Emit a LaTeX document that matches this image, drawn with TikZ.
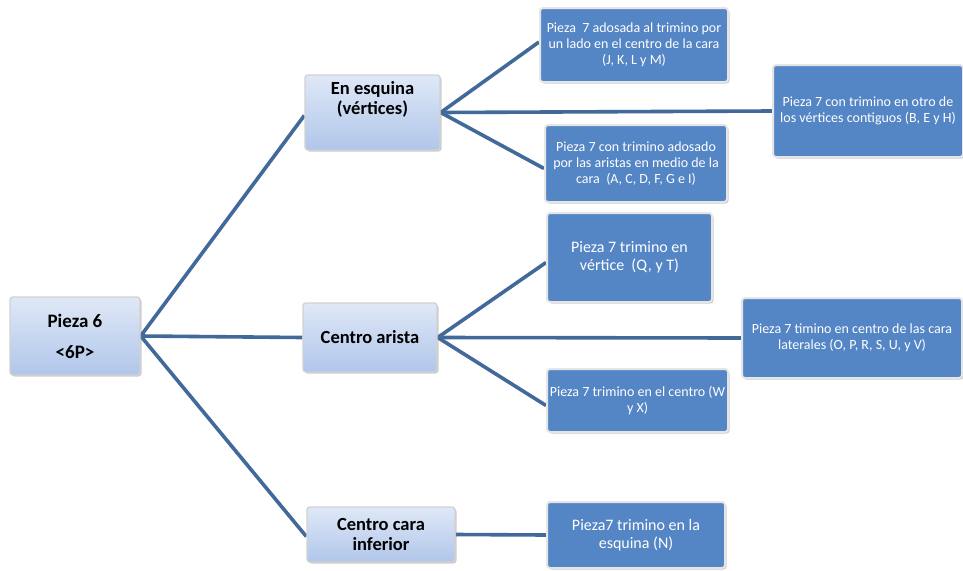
\documentclass[tikz,border=0pt]{standalone}
\usepackage{fontspec}
\setmainfont{Carlito}
\usetikzlibrary{shadows,backgrounds}
\definecolor{lineblue}{HTML}{41699A}
\definecolor{darkfill}{HTML}{5485C5}
\definecolor{lighttop}{HTML}{DFE8F7}
\definecolor{lightbot}{HTML}{B0C6EA}
\begin{document}
\begin{tikzpicture}[x=1pt,y=-1pt,
  lightbox/.style={rectangle, rounded corners=3pt, draw=white!65!gray, line width=1.4pt,
    top color=lighttop, bottom color=lightbot,
    drop shadow={shadow xshift=1.5pt,shadow yshift=-1.5pt,opacity=0.4},
    font=\bfseries\fontsize{18.5}{20}\selectfont, align=center, inner sep=0pt},
  lighttext/.style={font=\bfseries\fontsize{18.5}{20}\selectfont, align=center, inner sep=0pt},
  darkbox/.style={rectangle, rounded corners=3pt, draw=white!90!black, line width=2pt,
    fill=darkfill, text=white,
    drop shadow={shadow xshift=1.5pt,shadow yshift=-1.5pt,opacity=0.4},
    align=center, inner sep=0pt},
  small/.style={font=\fontsize{14}{16}\selectfont},
  big/.style={font=\fontsize{16}{18}\selectfont},
  link/.style={draw=lineblue, line width=3.6pt}]
\useasboundingbox (0,0) rectangle (963,570);

% level 0 and 1
\node[lightbox, minimum width=130pt, minimum height=78pt, font=\bfseries\fontsize{19}{31}\selectfont] (p6) at (75,336) {Pieza 6\\<6P>};
\node[lightbox, minimum width=135pt, minimum height=75pt] (ee) at (372.5,112.5) {};
\node[lighttext] (eetext) at ([yshift=13pt]ee.center) {En esquina\\(vértices)};
\node[lightbox, minimum width=134pt, minimum height=69pt] (ca) at (370,337.5) {Centro arista};
\node[lightbox, minimum width=148pt, minimum height=55pt] (cci) at (381,534.5) {Centro cara\\inferior};

% level 2
\node[darkbox, small, minimum width=188pt, minimum height=74pt] (b1) at (634,45) {Pieza\ \ 7 adosada al trimino por\\un lado en el centro de la cara\\(J, K, L y M)};
\node[darkbox, small, minimum width=190pt, minimum height=92pt] (b2) at (868,111) {Pieza 7 con trimino en otro de\\los vértices contiguos (B, E y H)};
\node[darkbox, small, minimum width=182pt, minimum height=77pt] (b3) at (636,163.5) {Pieza 7 con trimino adosado\\por las aristas en medio de la\\cara\ \ (A, C, D, F, G e I)};
\node[darkbox, big, minimum width=165pt, minimum height=89pt] (b4) at (629.5,257.5) {Pieza 7 trimino en\\vértice\ \ (Q, y T)};
\node[darkbox, small, minimum width=220pt, minimum height=80pt] (b5) at (852,338) {Pieza 7 timino en centro de las cara\\laterales (O, P, R, S, U, y V)};
\node[darkbox, small, minimum width=181pt, minimum height=63pt] (b6) at (637.5,400.5) {Pieza 7 trimino en el centro (W\\y X)};
\node[darkbox, big, minimum width=178pt, minimum height=66pt] (b7) at (636,535) {Pieza7 trimino en la\\esquina (N)};

% connectors
\begin{scope}[on background layer]
\fill[white] (0,0) rectangle (963,570);
\draw[link] (p6.east) -- ([yshift=-3pt]ee.west);
\draw[link] (p6.east) -- (ca.west);
\draw[link] (p6.east) -- ([yshift=-2pt]cci.west);
\draw[link] (ee.east) -- ([yshift=3pt]b1.west);
\draw[link] (ee.east) -- (b2.west);
\draw[link] (ee.east) -- ([yshift=-5pt]b3.west);
\draw[link] (ca.east) -- ([yshift=-5pt]b4.west);
\draw[link] (ca.east) -- (b5.west);
\draw[link] (ca.east) -- ([yshift=-5pt]b6.west);
\draw[link] (cci.east) -- (b7.west);
\end{scope}
\end{tikzpicture}
\end{document}
